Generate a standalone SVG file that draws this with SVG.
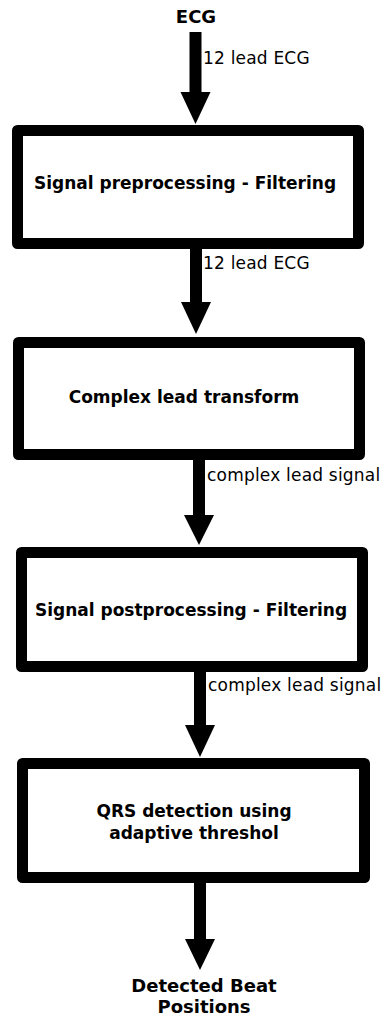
<svg xmlns="http://www.w3.org/2000/svg" width="385" height="1017" viewBox="0 0 385 1017">
  <style>
    .box { fill: #fff; stroke: #000; stroke-width: 11; stroke-linejoin: round; }
    .arrow { fill: #000; stroke: none; }
    .title { font-family: "DejaVu Sans", "Liberation Sans", sans-serif; font-size: 17px; font-weight: bold; text-anchor: middle; fill: #000; }
    .term { font-family: "DejaVu Sans", "Liberation Sans", sans-serif; font-size: 18px; font-weight: bold; text-anchor: middle; fill: #000; }
    .label { font-family: "DejaVu Sans", "Liberation Sans", sans-serif; font-size: 17px; letter-spacing: 0.2px; fill: #000; }
  </style>
  <rect width="385" height="1017" fill="#fff"/>

  <!-- connectors: thick block arrows with their labels -->
  <g id="connectors">
    <path class="arrow" d="M189.5,32 H201.5 V92 H210.5 L195.5,124 L180.5,92 H189.5 Z"/>
    <text class="label" x="203" y="64">12 lead ECG</text>
    <path class="arrow" d="M190,249 H202 V302 H211 L196,334 L181,302 H190 Z"/>
    <text class="label" x="203" y="269">12 lead ECG</text>
    <path class="arrow" d="M193,460 H205 V515 H214 L199,545 L184,515 H193 Z"/>
    <text class="label" x="207" y="481">complex lead signal</text>
    <path class="arrow" d="M194,672 H206 V725 H215 L200,757 L185,725 H194 Z"/>
    <text class="label" x="208" y="691">complex lead signal</text>
    <path class="arrow" d="M194,883 H206 V939 H215 L200,970 L185,939 H194 Z"/>
  </g>

  <g id="input">
    <text class="term" x="196" y="23">ECG</text>
  </g>

  <g id="preprocessing">
    <rect class="box" x="17.5" y="130.5" width="341" height="113"/>
    <text class="title" x="185" y="189">Signal preprocessing - Filtering</text>
  </g>

  <g id="transform">
    <rect class="box" x="18.5" y="342.5" width="341" height="112"/>
    <text class="title" x="184" y="403">Complex lead transform</text>
  </g>

  <g id="postprocessing">
    <rect class="box" x="21.5" y="552.5" width="341" height="114"/>
    <text class="title" x="191" y="616">Signal postprocessing - Filtering</text>
  </g>

  <g id="qrs-detection">
    <rect class="box" x="22.5" y="763.5" width="342" height="114"/>
    <text class="title" x="194" y="817">QRS detection using</text>
    <text class="title" x="194" y="839">adaptive threshol</text>
  </g>

  <g id="output">
    <text class="term" x="204" y="992">Detected Beat</text>
    <text class="term" x="204" y="1013">Positions</text>
  </g>
</svg>
